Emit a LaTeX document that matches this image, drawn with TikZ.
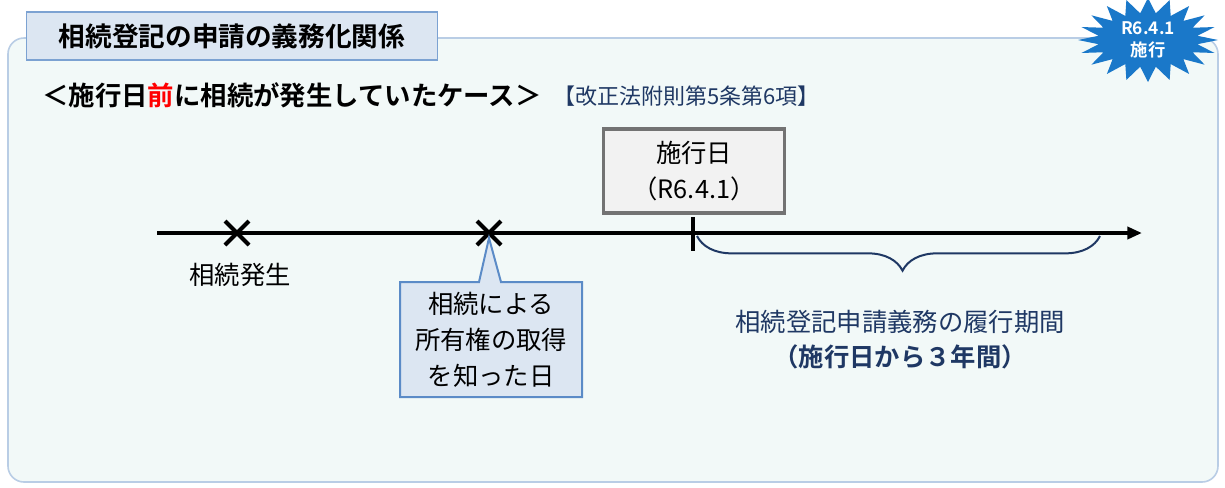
\documentclass[tikz,border=0pt]{standalone}
\usepackage{fontspec}
\setmainfont{Noto Sans CJK JP}[BoldFont={Noto Sans CJK JP Bold}]
\usetikzlibrary{decorations.pathreplacing,arrows.meta}
\definecolor{panel}{HTML}{F2F9F8}
\definecolor{panelb}{HTML}{B9CDE5}
\definecolor{lblue}{HTML}{DCE6F2}
\definecolor{mblue}{HTML}{5B8BC7}
\definecolor{navy}{HTML}{1F3864}
\definecolor{star}{HTML}{1A78C9}
\tikzset{
  txt/.style={inner sep=0pt,font=\fontsize{19}{23}\selectfont},
  xmark/.style={line width=3pt},
}
\begin{document}
\begin{tikzpicture}[x=0.75pt,y=-0.75pt]
\useasboundingbox (0,0) rectangle (1225,487);
\fill[white] (0,0) rectangle (1225,487);
\draw[panelb,fill=panel,line width=1.2pt,rounded corners=12pt] (8,38) rectangle (1218,482);
\node[draw=mblue!80,fill=lblue,line width=1pt,minimum width=411*0.75pt,minimum height=48*0.75pt,font=\bfseries\fontsize{20}{24}\selectfont] (title) at (232,36) {相続登記の申請の義務化関係};
\node[txt,anchor=west,font=\bfseries\fontsize{19.8}{24}\selectfont] (sub) at (42,95) {＜施行日{\color{red}前}に相続が発生していたケース＞};
\node[txt,anchor=west,text=navy,font=\fontsize{16.5}{19}\selectfont] (ref) at (553,96) {【改正法附則第5条第6項】};
% starburst
\fill[star] plot[samples=41,domain=0:40,variable=\i] ({1148+(mod(\i,2)==0?70:50)*cos(\i*360/40)},{40+(mod(\i,2)==0?42:27)*sin(\i*360/40)}) -- cycle;
\node[txt,text=white,align=center,font=\bfseries\fontsize{13}{16}\selectfont] (burst) at (1148,40) {R6.4.1\\施行};
% timeline
\coordinate (ts) at (157,233);
\coordinate (te) at (1142,233);
\draw[line width=3pt,-{Triangle[length=11pt,width=9pt]}] (ts) -- (te);
\draw[xmark] (225,221) -- (249,245) (225,245) -- (249,221);
\draw[xmark] (477,221) -- (501,245) (477,245) -- (501,221);
\coordinate (x2) at (489,238);
\node[txt] (hassei) at (240,275) {相続発生};
% callout
\draw[mblue,fill=lblue,line width=1.5pt] (400,282) -- (479,282) -- (x2) -- (501,282) -- (582,282) -- (582,397) -- (400,397) -- cycle;
\node[txt,align=center,font=\fontsize{19}{27}\selectfont] (know) at (491,340) {相続による\\所有権の取得\\を知った日};
% shikoubi
\node[draw=gray!90!black,fill=gray!10,line width=2.5pt,minimum width=181*0.75pt,minimum height=84*0.75pt,align=center,font=\fontsize{19}{27}\selectfont] (sk) at (694,171) {施行日\\（R6.4.1）};
\draw[line width=3pt] (693,217) -- (693,251);
\coordinate (b1) at (697,236);
\coordinate (b2) at (1100,236);
\draw[navy,line width=1.5pt,decorate,decoration={brace,mirror,amplitude=26pt,aspect=0.51}] (b1) -- (b2);
\node[txt,text=navy] (period) at (900,322) {相続登記申請義務の履行期間};
\node[txt,text=navy,font=\bfseries\fontsize{19}{23}\selectfont] (years) at (900,357) {（施行日から３年間）};
\end{tikzpicture}
\end{document}
